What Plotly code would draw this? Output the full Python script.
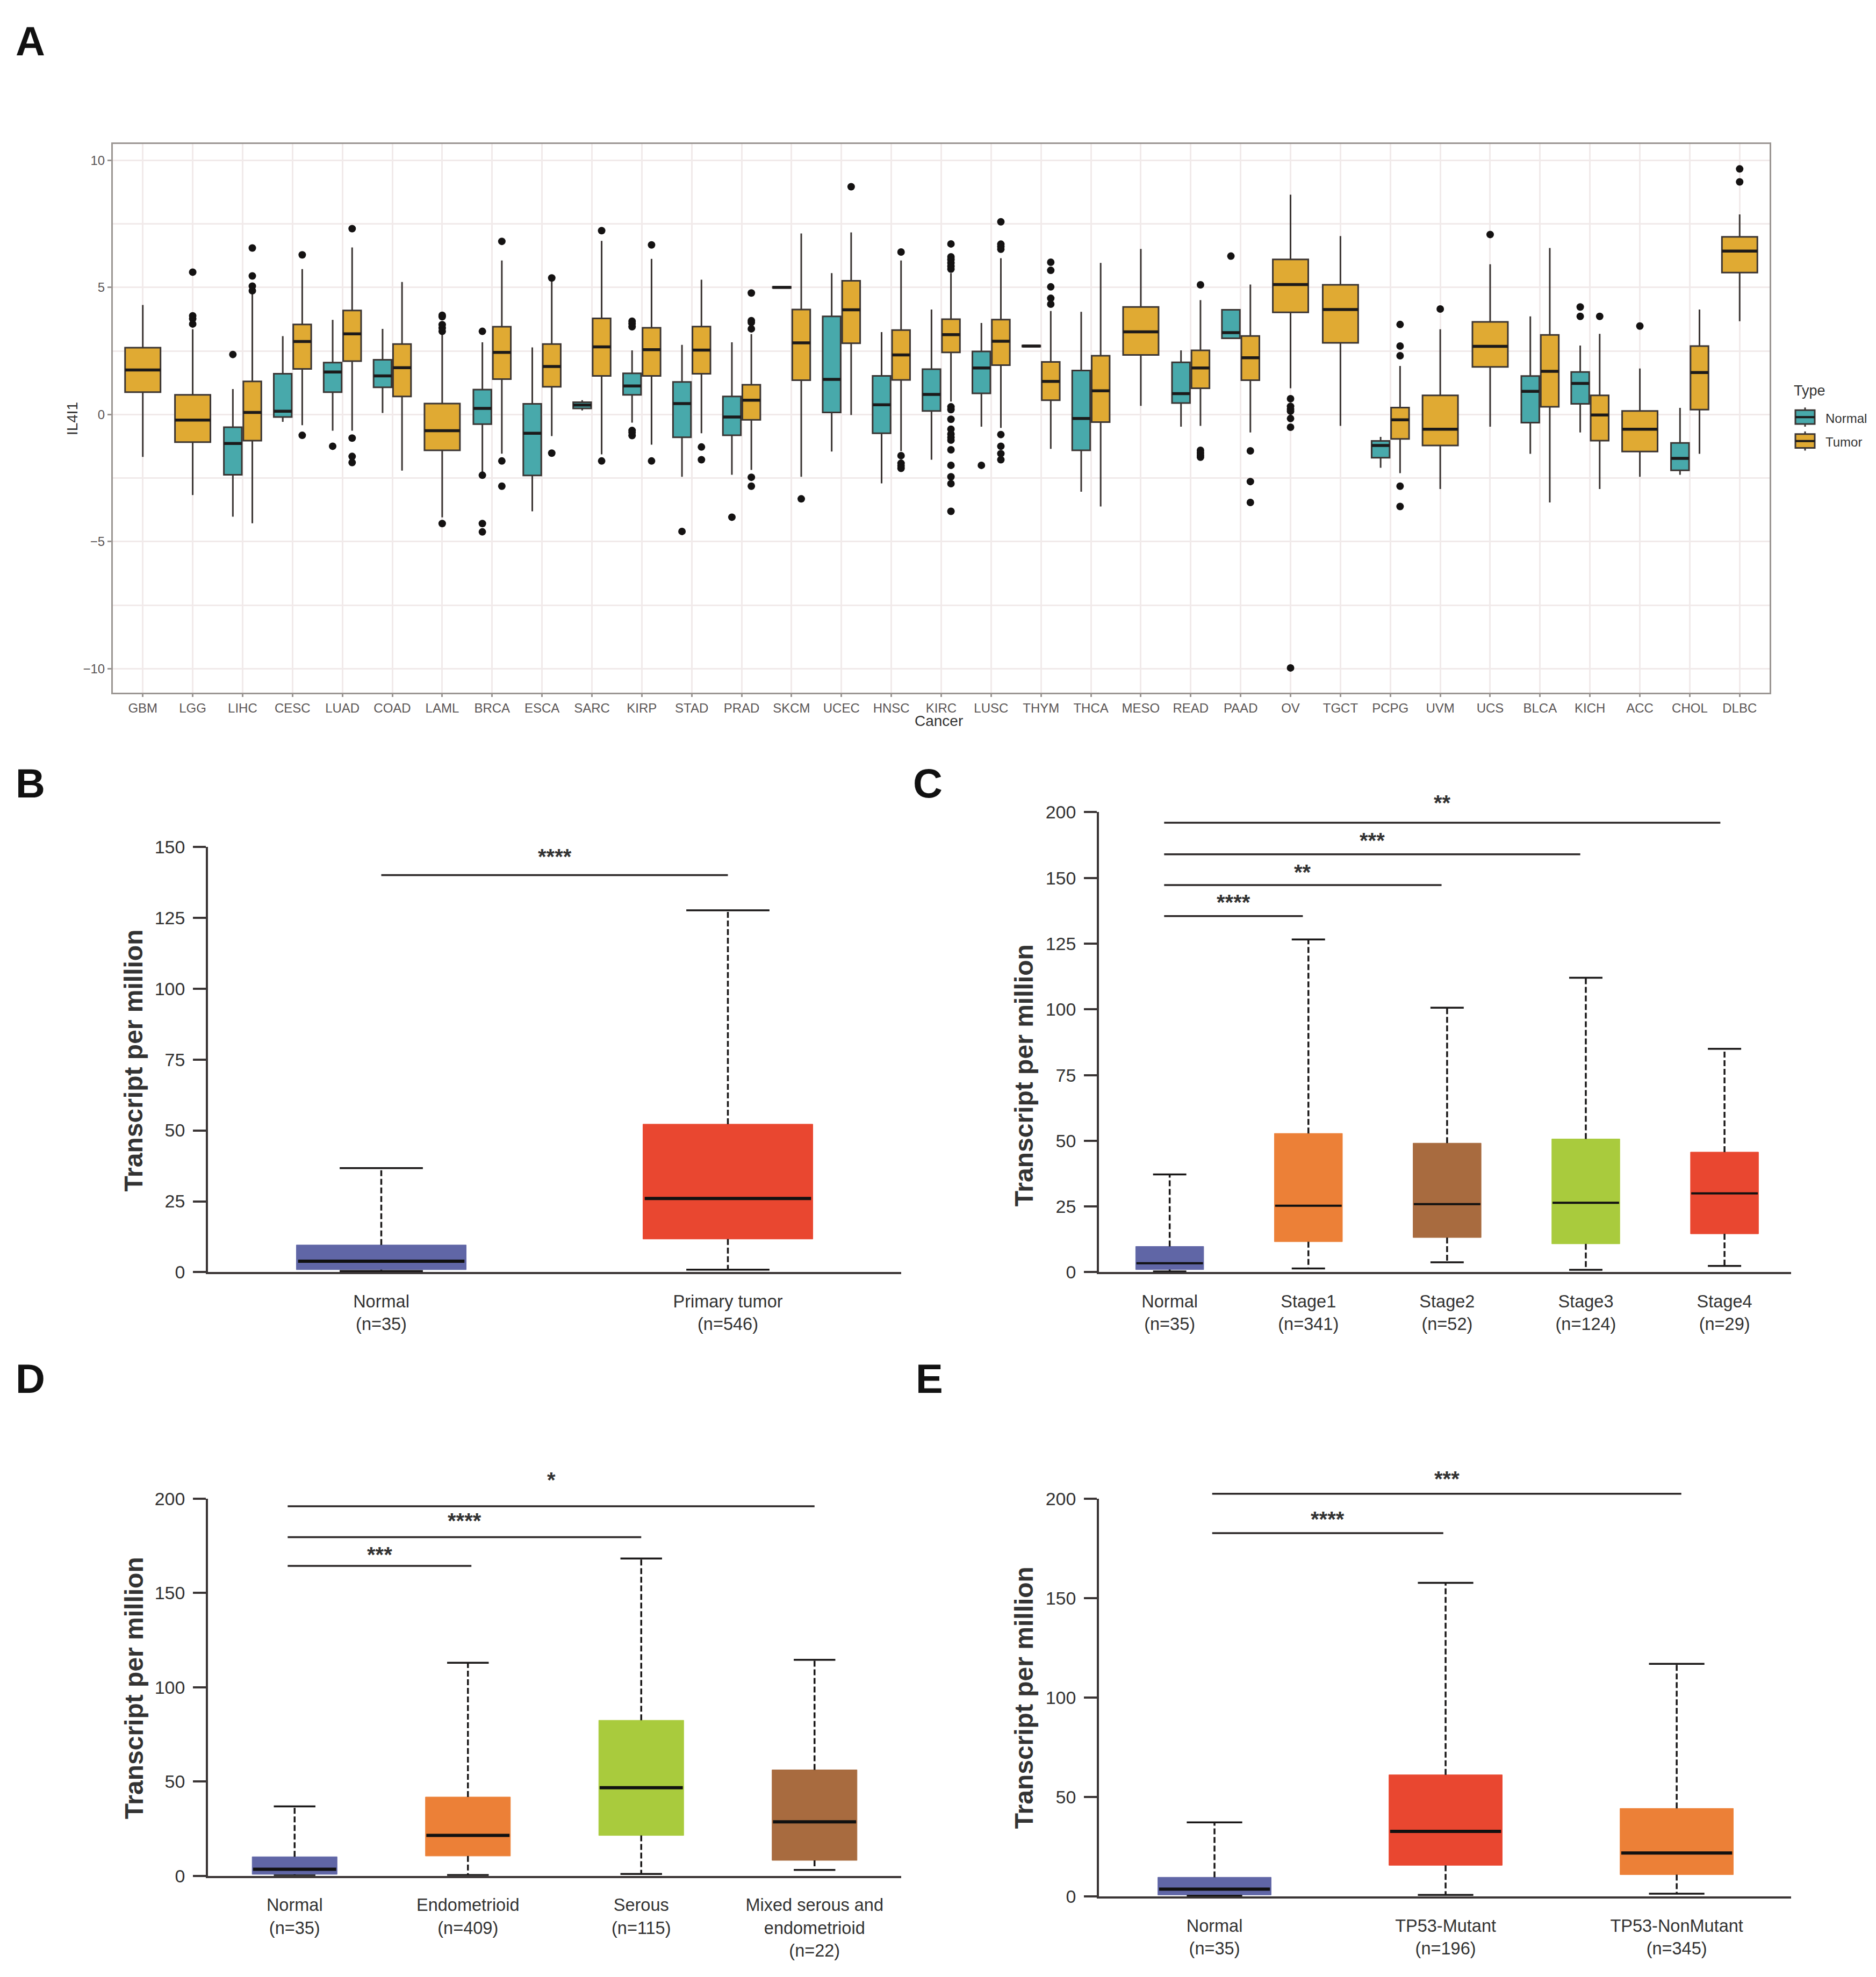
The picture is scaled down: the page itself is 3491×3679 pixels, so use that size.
import plotly.graph_objects as go

W, H = 3491, 3679
PAGE_MARGIN = 8  # the browser keeps 8px around the figure

# panel A, TCGA IL4I1 expression
cancers = ['GBM','LGG','LIHC','CESC','LUAD','COAD','LAML','BRCA','ESCA','SARC','KIRP','STAD','PRAD','SKCM','UCEC','HNSC','KIRC',
           'LUSC','THYM','THCA','MESO','READ','PAAD','OV','TGCT','PCPG','UVM','UCS','BLCA','KICH','ACC','CHOL','DLBC']

tumor_lo = [-1.67,-3.17,-4.28,-0.42,-0.64,-2.21,-4.05,-1.54,-0.85,-1.57,-1.19,-0.74,-2.18,-2.45,-0.02,-1.44,0.51,
            -0.53,-1.35,-3.62,0.34,-0.45,-0.71,1.03,-0.45,-2.31,-2.93,-0.48,-3.46,-2.93,-2.45,-1.55,3.67]
tumor_q1 = [0.88,-1.09,-1.03,1.79,2.1,0.71,-1.41,1.39,1.09,1.52,1.52,1.6,-0.21,1.35,2.8,1.36,2.44,
            1.94,0.56,-0.3,2.34,1.03,1.35,4.02,2.82,-0.96,-1.22,1.87,0.3,-1.03,-1.46,0.19,5.58]
tumor_med = [1.75,-0.22,0.08,2.87,3.17,1.84,-0.64,2.44,1.89,2.66,2.55,2.53,0.56,2.82,4.12,2.34,3.14,
             2.88,1.3,0.93,3.25,1.83,2.23,5.11,4.13,-0.21,-0.58,2.68,1.7,-0.02,-0.58,1.65,6.43]
tumor_q3 = [2.63,0.77,1.3,3.54,4.09,2.77,0.43,3.45,2.77,3.78,3.41,3.46,1.17,4.13,5.26,3.32,3.75,
            3.73,2.07,2.31,4.23,2.52,3.09,6.1,5.1,0.27,0.75,3.64,3.13,0.75,0.14,2.69,6.99]
tumor_hi = [4.31,3.35,4.76,5.72,6.57,5.21,3.24,6.06,5.32,6.83,6.12,5.3,3.16,7.12,7.16,6.06,5.56,
            6.15,4.07,5.96,6.51,4.5,5.11,8.65,7.02,1.91,3.35,5.91,6.55,3.17,1.81,4.13,7.87]

normal_types = ['LIHC','CESC','LUAD','COAD','BRCA','ESCA','SARC','KIRP','STAD','PRAD','SKCM','UCEC','HNSC','KIRC','LUSC','THYM',
                'THCA','READ','PAAD','PCPG','BLCA','KICH','CHOL']
normal_lo = [-4.02,-0.29,-0.64,0.06,-2.3,-3.81,0.16,-0.32,-2.45,-2.37,4.98,-1.46,-2.71,-1.78,-0.48,2.67,-3.04,-0.48,3.0,-2.1,-1.55,-0.71,-2.37]
normal_q1 = [-2.37,-0.1,0.88,1.07,-0.38,-2.4,0.24,0.77,-0.9,-0.82,4.98,0.08,-0.74,0.14,0.83,2.67,-1.41,0.45,3.0,-1.7,-0.32,0.42,-2.2]
normal_med = [-1.14,0.13,1.67,1.52,0.24,-0.74,0.37,1.12,0.43,-0.1,5.0,1.38,0.38,0.79,1.83,2.69,-0.16,0.82,3.22,-1.22,0.91,1.22,-1.73]
normal_q3 = [-0.5,1.6,2.04,2.15,0.98,0.42,0.48,1.62,1.28,0.71,5.02,3.86,1.52,1.78,2.48,2.71,1.73,2.05,4.12,-1.04,1.51,1.67,-1.12]
normal_hi = [1.0,3.08,3.72,3.37,2.84,2.64,0.56,2.52,2.74,2.84,5.02,5.56,3.24,4.13,3.6,2.71,4.04,2.52,4.12,-0.88,3.86,2.71,0.26]

normal_out_x = ['LIHC','LUAD','BRCA','BRCA','BRCA','BRCA','KIRP','KIRP','KIRP','KIRP','KIRP','KIRP','STAD','PRAD','LUSC','PAAD','KICH','KICH']
normal_out_y = [2.36,-1.25,3.27,-2.39,-4.29,-4.62,3.67,3.57,3.45,-0.63,-0.71,-0.83,-4.6,-4.04,-2.0,6.23,4.23,3.86]

tumor_out_x = ['LGG','LGG','LGG','LGG','LIHC','LIHC','LIHC','LIHC','CESC','CESC','LUAD','LUAD','LUAD','LUAD',
               'LAML','LAML','LAML','LAML','LAML','LAML','BRCA','BRCA','BRCA','ESCA','ESCA','SARC','SARC','KIRP','KIRP',
               'STAD','STAD','PRAD','PRAD','PRAD','PRAD','PRAD','PRAD','SKCM','UCEC','HNSC','HNSC','HNSC','HNSC','HNSC',
               'KIRC','KIRC','KIRC','KIRC','KIRC','KIRC','KIRC','KIRC','KIRC','KIRC','KIRC','KIRC','KIRC','KIRC','KIRC','KIRC','KIRC','KIRC',
               'LUSC','LUSC','LUSC','LUSC','LUSC','LUSC','LUSC','LUSC','THYM','THYM','THYM','THYM','THYM',
               'READ','READ','READ','READ','READ','PAAD','PAAD','PAAD','OV','OV','OV','OV','OV','OV','OV',
               'PCPG','PCPG','PCPG','PCPG','PCPG','UVM','UCS','KICH','ACC','DLBC','DLBC']
tumor_out_y = [5.6,3.88,3.77,3.56,6.55,5.45,5.05,4.87,6.28,-0.82,7.31,-0.93,-1.65,-1.89,
               3.9,3.85,3.53,3.4,3.27,-4.29,6.81,-1.83,-2.82,5.37,-1.52,7.23,-1.83,6.67,-1.83,
               -1.28,-1.78,4.78,3.69,3.62,3.37,-2.47,-2.82,-3.32,8.96,6.39,-1.62,-1.92,-2.02,-2.12,
               6.71,6.2,6.09,5.96,5.83,5.72,0.3,0.19,-0.19,-0.58,-0.77,-0.9,-1.01,-1.39,-2.0,-2.45,-2.72,-3.81,
               7.58,6.7,6.6,6.5,-0.79,-1.25,-1.54,-1.78,5.99,5.67,5.02,4.57,4.34,
               5.1,-1.41,-1.51,-1.6,-1.68,-1.43,-2.64,-3.46,0.62,0.32,0.22,0.13,-0.16,-0.5,-9.97,
               3.54,2.69,2.31,-2.82,-3.62,4.15,7.08,3.86,3.48,9.66,9.15]

# panels B-E, UALCAN boxes
b_labels = ['Normal<br>(n=35)', 'Primary tumor<br>(n=546)']
b_colors = ['#6066a6', '#e94730']
b_lo = [0.4, 0.9]
b_q1 = [0.9, 11.7]
b_med = [3.9, 26]
b_q3 = [9.6, 52.2]
b_hi = [36.7, 127.6]
b_sig = [(0, 1, 140, 147.6, '****')]

c_labels = ['Normal<br>(n=35)', 'Stage1<br>(n=341)', 'Stage2<br>(n=52)', 'Stage3<br>(n=124)', 'Stage4<br>(n=29)']
c_colors = ['#6066a6', '#ec8037', '#a86b3f', '#a9cb3d', '#e94730']
c_lo = [0.3, 1.4, 3.8, 0.9, 2.4]
c_q1 = [1.0, 11.6, 13.2, 10.8, 14.6]
c_med = [3.4, 25.3, 25.9, 26.4, 30]
c_q3 = [9.8, 52.8, 49.1, 50.7, 45.7]
c_hi = [37.2, 126.6, 100.6, 112, 85]
c_sig = [(-0.04, 0.96, 135.5, 142, '****'), (-0.04, 1.96, 147.3, 153.4, '**'),
         (-0.04, 2.96, 159, 165.5, '***'), (-0.04, 3.97, 171, 179.7, '**')]
c_tickvals = [0, 25, 50, 75, 100, 125, 150, 175]
c_ticktext = ['0', '25', '50', '75', '100', '125', '150', '200']

d_labels = ['Normal<br>(n=35)', 'Endometrioid<br>(n=409)', 'Serous<br>(n=115)', 'Mixed serous and<br>endometrioid<br>(n=22)']
d_colors = ['#6066a6', '#ec8037', '#a9cb3d', '#a86b3f']
d_lo = [0.2, 0.4, 1.0, 3.1]
d_q1 = [0.8, 10.5, 21.4, 8.2]
d_med = [3.5, 21.4, 46.7, 28.6]
d_q3 = [10.1, 41.8, 82.5, 56.2]
d_hi = [36.8, 113, 168.3, 114.6]
d_sig = [(-0.04, 1.02, 164.4, 172.2, '***'), (-0.04, 2.0, 179.6, 189.9, '****'), (-0.04, 3.0, 196, 211.7, '*')]

e_labels = ['Normal<br>(n=35)', 'TP53-Mutant<br>(n=196)', 'TP53-NonMutant<br>(n=345)']
e_colors = ['#6066a6', '#e94730', '#ec8037']
e_lo = [0.4, 0.8, 1.4]
e_q1 = [0.8, 15.7, 11]
e_med = [3.7, 32.8, 21.9]
e_q3 = [9.7, 61.2, 44.3]
e_hi = [37.3, 157.7, 117]
e_sig = [(-0.01, 0.99, 182.7, 191.5, '****'), (-0.01, 2.02, 202.5, 211.5, '***')]

TEAL = '#48a9ab'
GOLD = '#e0aa33'
EDGE = '#3b3533'
AXIS = '#3a3535'
TEXT = '#333333'
FONT = 'Liberation Sans'


def px_x(x):
    return (x - PAGE_MARGIN) / (W - 2 * PAGE_MARGIN)


def px_y(y):
    return 1 - (y - PAGE_MARGIN) / (H - 2 * PAGE_MARGIN)


fig = go.Figure()
annotations = []
shapes = []
layout = {}


def add_text(text, x, y, size, color=TEXT, angle=0, xanchor='center'):
    annotations.append(dict(text=text, x=px_x(x), y=px_y(y), xref='paper', yref='paper', showarrow=False, textangle=angle,
                            xanchor=xanchor, yanchor='middle', font=dict(family=FONT, size=size, color=color)))


def add_tcga(names, lo, q1, med, q3, hi, color, width, offset):
    x = [cancers.index(n) + offset for n in names]
    fig.add_trace(go.Box(x=x, q1=q1, median=med, q3=q3, lowerfence=lo, upperfence=hi, width=width, fillcolor=color,
                         line=dict(color=EDGE, width=3), whiskerwidth=0, boxpoints=False, showlegend=False,
                         xaxis='x', yaxis='y'))
    mx, my = [], []
    for xi, m in zip(x, med):
        mx += [xi - width / 2, xi + width / 2, None]
        my += [m, m, None]
    fig.add_trace(go.Scatter(x=mx, y=my, mode='lines', line=dict(color='#1c1a1a', width=5.5), showlegend=False,
                             hoverinfo='skip', xaxis='x', yaxis='y'))


DODGE = 0.195
paired = [c in normal_types for c in cancers]


def pick(values, flag):
    return [v for v, p in zip(values, paired) if p == flag]


add_tcga(normal_types, normal_lo, normal_q1, normal_med, normal_q3, normal_hi, TEAL, 0.36, -DODGE)
add_tcga(pick(cancers, True), pick(tumor_lo, True), pick(tumor_q1, True), pick(tumor_med, True), pick(tumor_q3, True),
         pick(tumor_hi, True), GOLD, 0.36, DODGE)
add_tcga(pick(cancers, False), pick(tumor_lo, False), pick(tumor_q1, False), pick(tumor_med, False), pick(tumor_q3, False),
         pick(tumor_hi, False), GOLD, 0.71, 0)

# outliers
fig.add_trace(go.Scatter(x=[cancers.index(n) - DODGE for n in normal_out_x], y=normal_out_y, mode='markers',
                         marker=dict(color='#141212', size=14), showlegend=False, xaxis='x', yaxis='y'))
fig.add_trace(go.Scatter(x=[cancers.index(n) + (DODGE if n in normal_types else 0) for n in tumor_out_x], y=tumor_out_y,
                         mode='markers', marker=dict(color='#141212', size=14), showlegend=False, xaxis='x', yaxis='y'))

GRID = '#f1eaea'
layout['xaxis'] = dict(domain=[px_x(210), px_x(3293)], range=[-0.6, 32.6], anchor='y', tickmode='array',
                       tickvals=list(range(len(cancers))), ticktext=cancers, tickfont=dict(family=FONT, size=24, color='#5a5555'),
                       ticks='outside', ticklen=5, tickwidth=2.5, tickcolor='#9b9693', showline=True,
                       mirror=True, linecolor='#9b9693', linewidth=3, showgrid=True, gridcolor=GRID, gridwidth=3, zeroline=False)
layout['yaxis'] = dict(domain=[px_y(1283), px_y(252)], range=[-10.94, 10.63], anchor='x', tickmode='array',
                       tickvals=[-10, -5, 0, 5, 10], ticktext=['\u221210', '\u22125', '0', '5', '10'],
                       tickfont=dict(family=FONT, size=24, color='#5a5555'), ticks='outside', ticklen=7, tickwidth=2.5,
                       tickcolor='#9b9693', showline=True, mirror=True, linecolor='#9b9693', linewidth=3, showgrid=True,
                       gridcolor=GRID, gridwidth=3, zeroline=False,
                       minor=dict(tickvals=[-7.5, -2.5, 2.5, 7.5], showgrid=True, gridcolor=GRID, gridwidth=3, ticks=''))

add_text('Cancer', 1747, 1336, 28)
add_text('IL4I1', 134, 768, 28, angle=-90)

# legend of panel A
add_text('Type', 3336, 715, 27, xanchor='left')
for name, color, yc in [('Normal', TEAL, 765), ('Tumor', GOLD, 810)]:
    add_text(name, 3395, yc + 2, 24, xanchor='left')
    shapes.append(dict(type='line', xref='paper', yref='paper', x0=px_x(3359), x1=px_x(3359), y0=px_y(yc - 18), y1=px_y(yc + 18),
                       line=dict(color=EDGE, width=3)))
    shapes.append(dict(type='rect', xref='paper', yref='paper', x0=px_x(3341), x1=px_x(3377), y0=px_y(yc - 13), y1=px_y(yc + 13),
                       fillcolor=color, line=dict(color=EDGE, width=3)))
    shapes.append(dict(type='line', xref='paper', yref='paper', x0=px_x(3341), x1=px_x(3377), y0=px_y(yc), y1=px_y(yc),
                       line=dict(color='#1c1a1a', width=4)))


def add_ualcan(n, labels, colors, lo, q1, med, q3, hi, sig, dom_x, dom_y, xrange, yrange, tickvals, ticktext,
               med_width, title_x, title_y):
    xa, ya = f'x{n}', f'y{n}'
    pos = list(range(len(labels)))
    for i in pos:
        # whiskers are drawn separately, they are dashed here
        fig.add_trace(go.Box(x=[i], q1=[q1[i]], median=[med[i]], q3=[q3[i]], lowerfence=[q1[i]], upperfence=[q3[i]], width=0.49,
                             fillcolor=colors[i], line=dict(color=colors[i], width=1), whiskerwidth=0, boxpoints=False,
                             showlegend=False, xaxis=xa, yaxis=ya))
    wx, wy, cx, cy, mx, my = [], [], [], [], [], []
    for i in pos:
        wx += [i, i, None, i, i, None]
        wy += [q3[i], hi[i], None, q1[i], lo[i], None]
        cx += [i - 0.12, i + 0.12, None, i - 0.12, i + 0.12, None]
        cy += [hi[i], hi[i], None, lo[i], lo[i], None]
        mx += [i - 0.24, i + 0.24, None]
        my += [med[i], med[i], None]
    fig.add_trace(go.Scatter(x=wx, y=wy, mode='lines', line=dict(color='#1a1818', width=3.5, dash='11px,5px'), showlegend=False,
                             hoverinfo='skip', xaxis=xa, yaxis=ya))
    fig.add_trace(go.Scatter(x=cx, y=cy, mode='lines', line=dict(color='#1a1818', width=3.5), showlegend=False,
                             hoverinfo='skip', xaxis=xa, yaxis=ya))
    fig.add_trace(go.Scatter(x=mx, y=my, mode='lines', line=dict(color='#111111', width=med_width), showlegend=False,
                             hoverinfo='skip', xaxis=xa, yaxis=ya))

    # some brackets sit above the axis range, so they go in page coordinates
    def to_px(x, y):
        px = dom_x[0] + (x - xrange[0]) / (xrange[1] - xrange[0]) * (dom_x[1] - dom_x[0])
        py = dom_y[0] + (y - yrange[0]) / (yrange[1] - yrange[0]) * (dom_y[1] - dom_y[0])
        return px, py

    for x0, x1, level, star_level, stars in sig:
        ax, ay = to_px(x0, level)
        bx, _ = to_px(x1, level)
        shapes.append(dict(type='line', xref='paper', yref='paper', x0=px_x(ax), x1=px_x(bx), y0=px_y(ay), y1=px_y(ay),
                           line=dict(color='#2b2727', width=3.5)))
        sx, sy = to_px((x0 + x1) / 2, star_level)
        annotations.append(dict(text=f'<b>{stars}</b>', x=px_x(sx), y=px_y(sy), xref='paper', yref='paper', showarrow=False,
                                xanchor='center', yanchor='middle', yshift=-6, font=dict(family=FONT, size=40, color=TEXT)))
    layout[f'xaxis{n}'] = dict(domain=[px_x(dom_x[0]), px_x(dom_x[1])], range=xrange, anchor=ya, tickmode='array', tickvals=pos,
                               ticktext=labels, tickfont=dict(family=FONT, size=32.5, color=TEXT), ticks='',
                               ticklabelstandoff=23, showline=True, linecolor=AXIS, linewidth=3.5, showgrid=False,
                               zeroline=False)
    layout[f'yaxis{n}'] = dict(domain=[px_y(dom_y[0]), px_y(dom_y[1])], range=yrange, anchor=xa, tickmode='array',
                               tickvals=tickvals, ticktext=ticktext, tickfont=dict(family=FONT, size=34, color=TEXT),
                               ticks='outside', ticklen=24, tickwidth=3.5, tickcolor=AXIS, ticklabelstandoff=8,
                               showline=True, linecolor=AXIS, linewidth=3.5, showgrid=False, zeroline=False)
    add_text('<b>Transcript per million</b>', title_x, title_y, 48, angle=-90)


add_ualcan(2, b_labels, b_colors, b_lo, b_q1, b_med, b_q3, b_hi, b_sig, (387, 1677), (2373, 1573), [-0.5, 1.5], [0, 150],
           [0, 25, 50, 75, 100, 125, 150], ['0', '25', '50', '75', '100', '125', '150'], 6, 249, 1975)
add_ualcan(3, c_labels, c_colors, c_lo, c_q1, c_med, c_q3, c_hi, c_sig, (2045, 3333), (2373, 1508), [-0.51, 4.48], [0, 175],
           c_tickvals, c_ticktext, 4, 1905, 2003)
add_ualcan(4, d_labels, d_colors, d_lo, d_q1, d_med, d_q3, d_hi, d_sig, (387, 1677), (3508, 2799), [-0.5, 3.5], [0, 200],
           [0, 50, 100, 150, 200], ['0', '50', '100', '150', '200'], 6, 249, 3155)
add_ualcan(5, e_labels, e_colors, e_lo, e_q1, e_med, e_q3, e_hi, e_sig, (2045, 3333), (3547, 2799), [-0.5, 2.495], [0, 200],
           [0, 50, 100, 150, 200], ['0', '50', '100', '150', '200'], 6, 1905, 3173)

# panel letters
for letter, x, y in [('A', 56, 58), ('B', 56, 1453), ('C', 1726, 1453), ('D', 56, 2573), ('E', 1729, 2573)]:
    add_text(f'<b>{letter}</b>', x, y, 76, color='#111111')

fig.update_layout(width=W - 2 * PAGE_MARGIN, height=H - 2 * PAGE_MARGIN, margin=dict(l=0, r=0, t=0, b=0), paper_bgcolor='white',
                  plot_bgcolor='white', boxmode='overlay', showlegend=False, annotations=annotations, shapes=shapes, **layout)

fig.write_html("out.html")
